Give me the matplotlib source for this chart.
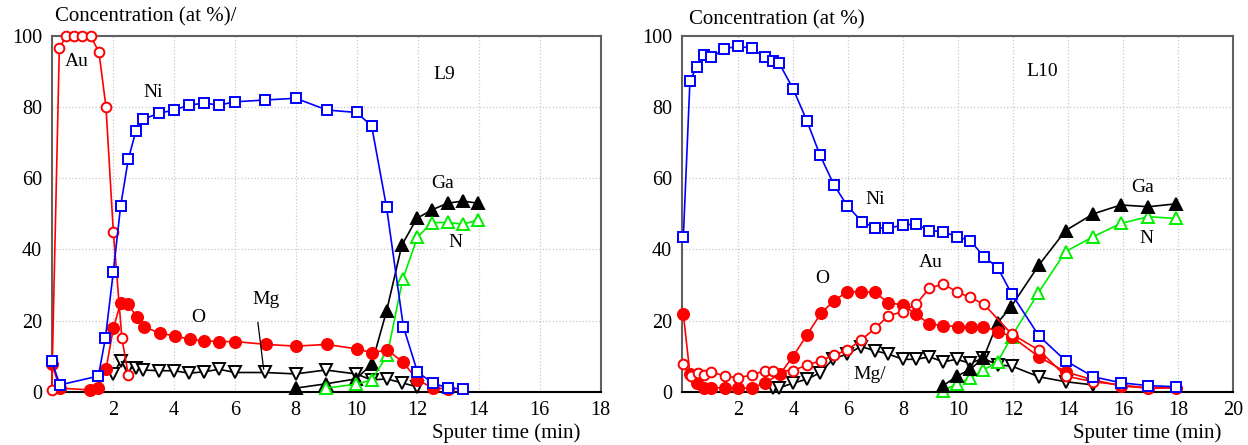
import numpy as np
import matplotlib
matplotlib.use('Agg')
import matplotlib.pyplot as plt

plt.rcParams['font.family'] = ['Liberation Serif', 'DejaVu Serif']
plt.rcParams['font.size'] = 14

# ---- L9 data (left panel) ----
l9_au_x = [0, 0.25, 0.47, 0.73, 1.0, 1.28, 1.55, 1.78, 2.02, 2.3, 2.51]
l9_au_y = [0.5, 96.5, 100, 100, 100, 100, 95.4, 80, 45, 15.2, 4.7]

l9_o_x = [0, 0.27, 1.26, 1.53, 1.78, 2.02, 2.26, 2.51, 2.79, 3.03, 3.55, 4.04,
          4.53, 4.99, 5.5, 6.02, 7.02, 8.01, 9.02, 10.02, 10.49, 11.0, 11.51,
          11.99, 12.49, 12.98]
l9_o_y = [7.8, 1.0, 0.5, 1.1, 6.3, 17.8, 25.0, 24.6, 20.9, 18.3, 16.4, 15.7,
          14.7, 14.3, 14.1, 14.1, 13.3, 12.8, 13.3, 12.0, 11.0, 11.7, 8.4,
          3.3, 1.1, 0.8]

l9_ni_x = [0, 0.27, 1.53, 1.76, 2.02, 2.26, 2.51, 2.76, 3.0, 3.52, 4.02, 4.51,
           5.0, 5.5, 6.01, 6.99, 8.0, 9.02, 10.0, 10.49, 10.98, 11.53, 11.99,
           12.49, 12.98, 13.5]
l9_ni_y = [8.6, 1.9, 4.4, 15.0, 33.7, 52.2, 65.3, 73.3, 76.6, 78.3, 79.2, 80.6,
           81.1, 80.6, 81.5, 82.0, 82.5, 79.2, 78.5, 74.7, 51.8, 18.3, 5.6,
           2.4, 1.1, 0.7]

l9_mg_x = [2.02, 2.26, 2.51, 2.76, 3.0, 3.52, 4.01, 4.51, 4.99, 5.49, 6.01,
           6.99, 8.0, 8.98, 9.98, 10.49, 10.98, 11.48, 11.97]
l9_mg_y = [4.9, 8.7, 6.6, 6.8, 6.1, 5.9, 5.9, 5.2, 5.6, 6.3, 5.4,
           5.4, 5.0, 6.1, 5.0, 3.3, 3.6, 2.5, 1.4]

l9_ga_x = [8.0, 8.98, 9.98, 10.49, 10.98, 11.48, 11.97, 12.46, 12.98, 13.48, 13.97]
l9_ga_y = [1.0, 2.2, 3.6, 7.7, 22.7, 41.2, 48.7, 51.1, 53.0, 53.6, 53.0]

l9_n_x = [8.98, 9.98, 10.49, 11.0, 11.51, 11.99, 12.46, 12.98, 13.48, 13.99]
l9_n_y = [1.0, 2.1, 3.3, 10.3, 31.6, 43.4, 47.5, 47.6, 47.1, 48.3]

# ---- L10 data (right panel) ----
l10_ni_x = [0, 0.24, 0.49, 0.75, 1.01, 1.49, 1.98, 2.49, 2.97, 3.25, 3.49, 4.0,
            4.49, 4.97, 5.48, 5.96, 6.49, 6.97, 7.45, 7.98, 8.46, 8.95, 9.44,
            9.94, 10.43, 10.93, 11.43, 11.94, 12.93, 13.9, 14.91, 15.92, 16.91, 17.9]
l10_ni_y = [43.6, 87.4, 91.4, 94.7, 94.0, 96.3, 97.2, 96.5, 94.0, 93.1, 92.3, 85.0,
            76.2, 66.5, 58.1, 52.3, 47.8, 46.1, 45.9, 46.9, 47.1, 45.3, 45.0,
            43.6, 42.5, 38.0, 34.9, 27.5, 15.7, 8.7, 4.2, 2.5, 1.7, 1.4]

l10_o_x = [0, 0.24, 0.49, 0.75, 1.0, 1.52, 2.0, 2.49, 2.97, 3.52, 3.98, 4.49,
           5.0, 5.48, 5.96, 6.46, 6.97, 7.45, 7.98, 8.46, 8.95, 9.45, 9.98,
           10.45, 10.91, 11.45, 11.94, 12.93, 13.9, 14.91, 15.92, 16.91, 17.9]
l10_o_y = [21.8, 5.0, 2.5, 1.1, 1.1, 1.1, 1.0, 1.0, 2.5, 5.0, 9.8, 15.9,
           22.0, 25.6, 28.1, 28.1, 27.9, 25.0, 24.4, 21.8, 19.0, 18.6, 18.3,
           18.3, 18.3, 16.9, 15.5, 9.8, 5.6, 3.3, 1.6, 1.0, 1.1]

l10_au_x = [0, 0.27, 0.55, 0.75, 1.0, 1.52, 2.0, 2.49, 2.97, 3.25, 3.98, 4.49,
            5.0, 5.48, 5.96, 6.46, 6.97, 7.45, 7.98, 8.46, 8.95, 9.45, 9.94,
            10.43, 10.93, 11.94, 12.93, 13.9, 14.91, 15.92, 16.91, 17.9]
l10_au_y = [7.8, 4.4, 5.3, 4.7, 5.6, 4.4, 3.9, 4.7, 5.9, 5.9, 5.9, 7.5,
            8.7, 10.3, 11.7, 14.5, 17.8, 21.3, 22.5, 24.6, 29.1, 30.3, 28.1,
            26.5, 24.6, 16.2, 11.7, 4.4, 2.8, 1.9, 1.0, 1.1]

l10_mg_x = [3.25, 3.49, 3.98, 4.49, 4.97, 5.45, 5.96, 6.46, 6.97, 7.45, 7.98,
            8.46, 8.95, 9.45, 9.94, 10.43, 10.91, 11.43, 11.94, 12.93, 13.9, 14.91]
l10_mg_y = [1.0, 1.1, 2.4, 3.5, 5.3, 9.2, 10.6, 12.7, 11.5, 10.6, 9.1,
            9.1, 9.8, 8.4, 9.1, 8.0, 9.4, 7.5, 7.2, 4.2, 2.8, 1.9]

l10_ga_x = [9.43, 9.96, 10.43, 10.91, 11.43, 11.92, 12.93, 13.9, 14.91, 15.91, 16.91, 17.9]
l10_ga_y = [1.6, 4.4, 6.3, 9.4, 19.4, 23.9, 35.6, 45.3, 50.0, 52.5, 52.0, 52.8]

l10_n_x = [9.45, 9.94, 10.43, 10.91, 11.43, 11.94, 12.91, 13.9, 14.91, 15.91, 16.91, 17.9]
l10_n_y = [0.3, 2.2, 3.8, 6.1, 8.4, 15.5, 27.8, 39.4, 43.6, 47.3, 49.2, 48.7]

RED = '#ff0000'
BLUE = '#0000ff'
GREEN = '#00ee00'

fig = plt.figure(figsize=(12.48, 4.45), dpi=100)
ax1 = fig.add_axes([51.7 / 1248, 1 - 391.7 / 445, 549 / 1248, 355.7 / 445])
ax2 = fig.add_axes([681.7 / 1248, 1 - 391.7 / 445, 551.6 / 1248, 355.7 / 445])


def style_axes(ax, xticks):
    ax.set_ylim(0, 100)
    ax.set_yticks([0, 20, 40, 60, 80, 100])
    ax.set_xticks(xticks)
    ax.tick_params(axis='y', length=0, pad=7, labelsize=14.5)
    ax.tick_params(axis='x', length=0, pad=7, labelsize=14.5)
    ax.grid(True, color='#c8c8c8', linestyle=':', linewidth=0.9)
    ax.set_axisbelow(True)
    for side in ['top', 'right', 'left']:
        ax.spines[side].set_color('#606060')
        ax.spines[side].set_linewidth(1.5)
    ax.spines['bottom'].set_color('black')
    ax.spines['bottom'].set_linewidth(1.5)


def plot_series(ax, x, y, color, marker, filled, ms, z=3):
    ax.plot(x, y, color=color, lw=1.2, marker=marker, markersize=ms,
            markerfacecolor=color if filled else 'white',
            markeredgecolor=color, markeredgewidth=1.4, zorder=z, clip_on=False)


# ---- left panel ----
plot_series(ax1, l9_mg_x, l9_mg_y, 'black', 'v', False, 8)
plot_series(ax1, l9_ga_x, l9_ga_y, 'black', '^', True, 8)
plot_series(ax1, l9_n_x, l9_n_y, GREEN, '^', False, 8)
plot_series(ax1, l9_o_x, l9_o_y, RED, 'o', True, 8)
plot_series(ax1, l9_au_x, l9_au_y, RED, 'o', False, 7)
plot_series(ax1, l9_ni_x, l9_ni_y, BLUE, 's', False, 7, z=4)
ax1.set_xlim(0, 18)
style_axes(ax1, [2, 4, 6, 8, 10, 12, 14, 16, 18])

ax1.text(0.44, 92.7, 'Au', va='center', ha='left')
ax1.text(3.0, 84, 'Ni', va='center', ha='left')
ax1.text(12.53, 89.3, 'L9', va='center', ha='left')
ax1.text(12.46, 58.6, 'Ga', va='center', ha='left')
ax1.text(13.0, 41.9, 'N', va='center', ha='left',
         bbox=dict(facecolor='white', edgecolor='none', pad=1), zorder=5)
ax1.text(4.57, 21, 'O', va='center', ha='left')
ax1.annotate('Mg', xy=(6.95, 6.3), xytext=(6.57, 25.8), va='center', ha='left',
             arrowprops=dict(arrowstyle='-', color='black', lw=0.9,
                             shrinkA=8, shrinkB=0, relpos=(0.15, 0.0)))

# ---- right panel ----
plot_series(ax2, l10_mg_x, l10_mg_y, 'black', 'v', False, 8)
plot_series(ax2, l10_n_x, l10_n_y, GREEN, '^', False, 8)
plot_series(ax2, l10_ga_x, l10_ga_y, 'black', '^', True, 8)
plot_series(ax2, l10_o_x, l10_o_y, RED, 'o', True, 8)
plot_series(ax2, l10_au_x, l10_au_y, RED, 'o', False, 7)
plot_series(ax2, l10_ni_x, l10_ni_y, BLUE, 's', False, 7, z=4)
ax2.set_xlim(-0.06, 20)
style_axes(ax2, [2, 4, 6, 8, 10, 12, 14, 16, 18, 20])

ax2.text(12.46, 90, 'L10', va='center', ha='left')
ax2.text(6.63, 53.9, 'Ni', va='center', ha='left')
ax2.text(16.3, 57.5, 'Ga', va='center', ha='left')
ax2.text(16.6, 43, 'N', va='center', ha='left',
         bbox=dict(facecolor='white', edgecolor='none', pad=1), zorder=5)
ax2.text(4.79, 31.7, 'O', va='center', ha='left')
ax2.text(8.58, 36.2, 'Au', va='center', ha='left')
ax2.text(6.2, 4.7, 'Mg/', va='center', ha='left')

# figure-level labels
fig.text(55 / 1248, 1 - 17 / 445, 'Concentration (at %)/', ha='left', va='center', fontsize=15)
fig.text(689 / 1248, 1 - 20 / 445, 'Concentration (at %)', ha='left', va='center', fontsize=15)
fig.text(580 / 1248, 1 - 433 / 445, 'Sputer time (min)', ha='right', va='center', fontsize=15)
fig.text(1221.7 / 1248, 1 - 433 / 445, 'Sputer time (min)', ha='right', va='center', fontsize=15)

fig.savefig('out.png', dpi=100)
